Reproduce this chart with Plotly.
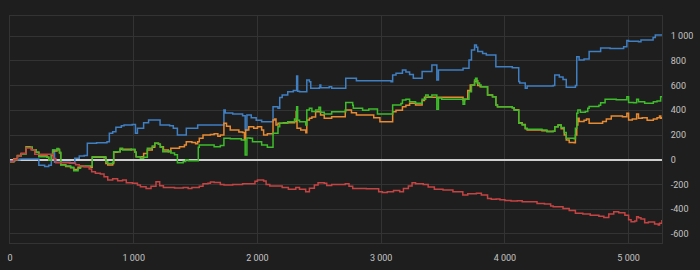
import plotly.graph_objects as go

# ---------------- data ----------------
blue_x = [0, 40, 80, 233, 280, 313, 334, 345, 360, 485, 524, 560, 600, 625, 700, 784, 803, 830, 856, 900, 922, 988, 1014, 1030,
          1054, 1080, 1120, 1213, 1290, 1320, 1353, 1425, 1517, 1729, 1740, 1800, 1880, 1901, 1915, 1950, 1990, 2034, 2126,
          2166, 2180, 2200, 2245, 2290, 2317, 2325, 2340, 2399, 2420, 2431, 2500, 2505, 2512, 2580, 2600, 2714, 2800, 3080,
          3093, 3120, 3172, 3200, 3230, 3260, 3278, 3331, 3410, 3450, 3463, 3662, 3710, 3730, 3755, 3770, 3781, 3820, 3850,
          3927, 4060, 4112, 4120, 4165, 4180, 4390, 4403, 4440, 4470, 4496, 4570, 4581, 4600, 4640, 4681, 4774, 4850, 4960,
          4986, 5000, 5080, 5100, 5198, 5216, 5269]
blue_y = [-10, 0, 5, -45, -55, -45, 40, 79, -20, -25, 11, 30, 35, 133, 138, 145, 214, 227, 262, 275, 281, 285, 214, 254,
          254, 300, 321, 281, 275, 254, 200, 254, 281, 402, 378, 370, 355, 240, 362, 340, 320, 308, 429,
          416, 504, 524, 551, 560, 678, 555, 551, 645, 630, 578, 582, 605, 582, 590, 578, 659, 640, 630,
          686, 700, 726, 710, 690, 660, 659, 713, 767, 645, 726, 740, 807, 888, 929, 910, 875, 860, 848,
          753, 745, 632, 620, 578, 597, 600, 686, 670, 650, 586, 600, 834, 807, 815, 875, 905, 900, 915,
          964, 958, 955, 969, 990, 1010, 1005]

green_x = [0, 30, 60, 90, 130, 160, 180, 210, 233, 300, 313, 335, 345, 380, 392, 400, 410, 450, 490, 515, 550, 570, 655,
           665, 760, 775, 790, 830, 838, 870, 890, 910, 980, 1010, 1020, 1054, 1080, 1110, 1150, 1170, 1200, 1215, 1235,
           1280, 1300, 1330, 1353, 1400, 1420, 1440, 1517, 1522, 1530, 1600, 1650, 1700, 1729, 1780, 1870, 1901, 1915,
           1940, 1960, 2034, 2080, 2126, 2166, 2180, 2245, 2300, 2317, 2325, 2340, 2390, 2399, 2420, 2440, 2470, 2497,
           2510, 2540, 2600, 2714, 2770, 2775, 2850, 2900, 2970, 3000, 3093, 3160, 3172, 3200, 3230, 3278, 3331, 3360,
           3380, 3410, 3450, 3463, 3490, 3662, 3675, 3710, 3730, 3755, 3763, 3775, 3795, 3808, 3860, 3900, 3927, 3940,
           4060, 4075, 4112, 4140, 4165, 4180, 4300, 4340, 4390, 4403, 4430, 4455, 4480, 4496, 4560, 4570, 4581, 4590,
           4610, 4650, 4670, 4681, 4760, 4774, 4810, 4900, 4986, 5000, 5040, 5065, 5080, 5130, 5200, 5230, 5259, 5269]
green_y = [-16, 0, 30, 46, 100, 100, 80, 60, 24, 20, -3, 40, 79, 90, 79, 60, -43, -50, -60, -89, -70, -51, -51,
           24, 24, -16, -30, -20, 65, 65, 92, 79, 85, 60, 24, 11, 20, 92, 110, 133, 125, 100, 65,
           70, 55, 40, -24, -15, 0, -8, -8, 100, 119, 119, 105, 115, 173, 170, 160, 38, 175,
           173, 146, 119, 100, 214, 267, 295, 308, 330, 429, 320, 308, 281, 402, 416, 390, 402, 424,
           385, 370, 389, 462, 440, 416, 400, 410, 370, 370, 443, 455, 483, 490, 470, 457, 490, 524,
           510, 524, 408, 500, 489, 449, 489, 551, 605, 645, 659, 620, 605, 591, 524, 510, 443, 429,
           420, 400, 295, 280, 254, 246, 240, 227, 230, 267, 281, 260, 220, 173, 170, 254, 376, 402,
           385, 390, 416, 430, 440, 460, 489, 485, 510, 462, 460, 490, 470, 457, 470, 475, 510, 505]

orange_x = [0, 30, 60, 90, 130, 160, 180, 210, 233, 300, 313, 335, 345, 380, 400, 410, 450, 490, 515, 550, 570, 655,
            665, 760, 775, 790, 830, 838, 870, 890, 980, 1010, 1020, 1054, 1080, 1110, 1150, 1170, 1200, 1215, 1240,
            1280, 1300, 1330, 1370, 1410, 1425, 1470, 1500, 1517, 1530, 1560, 1620, 1650, 1680, 1700, 1729, 1750, 1780,
            1850, 1880, 1895, 1905, 1930, 1970, 2000, 2034, 2050, 2080, 2126, 2140, 2150, 2166, 2210, 2260, 2300, 2313,
            2320, 2350, 2391, 2399, 2420, 2440, 2470, 2510, 2540, 2600, 2710, 2760, 2800, 2940, 2990, 3090, 3093, 3120,
            3172, 3200, 3230, 3278, 3331, 3350, 3450, 3463, 3662, 3675, 3700, 3720, 3755, 3770, 3781, 3800, 3860, 3900,
            3927, 3940, 4060, 4075, 4112, 4140, 4165, 4180, 4300, 4340, 4390, 4403, 4430, 4455, 4480, 4496, 4520, 4560,
            4570, 4581, 4590, 4600, 4640, 4660, 4681, 4790, 4820, 4860, 4950, 4986, 5000, 5030, 5065, 5080, 5110, 5150,
            5200, 5230, 5250, 5260, 5269]
orange_y = [-16, 5, 35, 50, 105, 100, 80, 60, 30, 20, 0, 35, 70, 85, 55, -40, -55, -65, -80, -60, -55, -60,
            20, 15, -30, -43, -30, 60, 65, 85, 80, 60, 24, 24, 50, 79, 100, 133, 125, 105, 79,
            65, 92, 92, 105, 119, 146, 140, 130, 146, 173, 200, 205, 210, 190, 200, 295, 270, 240,
            225, 220, 160, 240, 267, 255, 267, 240, 200, 210, 321, 330, 281, 295, 300, 300, 310, 389,
            254, 240, 219, 321, 335, 345, 389, 362, 335, 348, 402, 380, 362, 340, 308, 308, 389, 400,
            429, 440, 457, 443, 480, 505, 495, 505, 480, 490, 560, 605, 632, 640, 600, 591, 524, 510,
            443, 429, 420, 405, 300, 285, 250, 240, 235, 230, 230, 267, 281, 250, 200, 160, 140, 138,
            200, 281, 335, 310, 320, 330, 295, 310, 330, 353, 348, 376, 321, 330, 370, 335, 340, 320,
            330, 340, 353, 335, 345]

red_x = [0, 30, 60, 90, 130, 170, 200, 339, 350, 370, 400, 480, 530, 560, 600, 640, 660, 690, 730, 760, 790, 830, 870,
         910, 940, 990, 1030, 1054, 1100, 1140, 1180, 1210, 1240, 1330, 1400, 1440, 1470, 1530, 1560, 1600, 1620, 1650,
         1700, 1730, 1800, 1880, 1980, 2000, 2050, 2070, 2100, 2166, 2200, 2250, 2310, 2340, 2390, 2420, 2460, 2490,
         2540, 2560, 2600, 2710, 2740, 2770, 2880, 2980, 3010, 3050, 3100, 3150, 3180, 3220, 3250, 3278, 3340, 3380,
         3430, 3500, 3580, 3660, 3700, 3770, 3810, 3860, 3890, 3930, 3960, 4000, 4050, 4100, 4140, 4230, 4260, 4320,
         4370, 4390, 4470, 4520, 4570, 4630, 4690, 4760, 4800, 4840, 4880, 4920, 4970, 5000, 5020, 5050, 5065, 5080,
         5100, 5130, 5160, 5210, 5240, 5250, 5269]
red_y = [-16, 0, 30, 50, 95, 80, 44, 44, 10, -24, -24, -28, -40, -50, -57, -75, -97, -110, -115, -138, -164, -155, -170,
         -164, -186, -190, -205, -219, -232, -215, -178, -210, -225, -228, -225, -232, -225, -215, -195, -191, -180, -185,
         -200, -205, -200, -195, -175, -164, -172, -200, -213, -213, -225, -240, -225, -240, -259, -230, -205, -186,
         -190, -208, -200, -195, -215, -232, -235, -259, -265, -259, -250, -259, -232, -213, -186, -195, -200, -220,
         -240, -245, -259, -286, -275, -272, -285, -313, -320, -318, -325, -330, -335, -332, -340, -340, -355, -358,
         -375, -380, -395, -410, -434, -440, -450, -458, -467, -440, -421, -430, -450, -485, -502, -495, -461, -470,
         -480, -510, -505, -520, -529, -515, -488]

x_tick_vals = [0, 1000, 2000, 3000, 4000, 5000]
x_tick_text = ["0", "1 000", "2 000", "3 000", "4 000", "5 000"]
y_tick_vals = [-600, -400, -200, 0, 200, 400, 600, 800, 1000]
y_tick_text = ["-600", "-400", "-200", "0", "200", "400", "600", "800", "1 000"]

series = [
    (blue_x, blue_y, "#3f7fc2"),
    (orange_x, orange_y, "#e78a30"),
    (green_x, green_y, "#3dbd2a"),
    (red_x, red_y, "#c54343"),
]

fig = go.Figure()
for xs, ys, col in series:
    fig.add_trace(go.Scatter(x=xs, y=ys, mode="lines", line=dict(color=col, width=1.5, shape="hv"),
                             showlegend=False, hoverinfo="skip"))

bg = "#1e1e1e"
grid = "#333333"
font = dict(family="Roboto, Noto Sans, sans-serif", size=9, color="#c4c4c4")

fig.update_layout(
    width=700, height=270,
    margin=dict(l=7, r=29, t=16, b=27),
    paper_bgcolor=bg, plot_bgcolor=bg,
    font=font,
    xaxis=dict(range=[0, 5270], tickvals=x_tick_vals, ticktext=x_tick_text,
               showgrid=True, gridcolor=grid, gridwidth=1, zeroline=False,
               showline=True, linecolor=grid, mirror=True, ticks="", ticklabelstandoff=6),
    yaxis=dict(range=[-674, 1163], tickvals=y_tick_vals, ticktext=y_tick_text, side="right",
               showgrid=True, gridcolor=grid, gridwidth=1, zeroline=True, zerolinecolor="#cfcfcf",
               zerolinewidth=2, showline=True, linecolor=grid, mirror=True, ticks="", ticklabelstandoff=6),
)

fig.write_html("out.html")
